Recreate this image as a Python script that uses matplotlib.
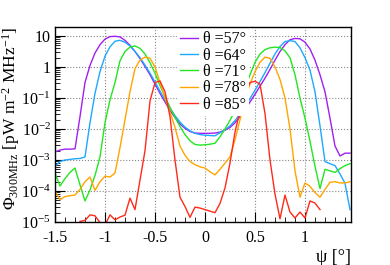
import matplotlib as mpl
mpl.use('Agg')

import numpy as np
import matplotlib.pyplot as plt
from matplotlib.ticker import LogLocator, FixedLocator, MultipleLocator, FuncFormatter, NullFormatter

plt.rcParams['font.family'] = 'Liberation Serif'
plt.rcParams['mathtext.fontset'] = 'custom'
plt.rcParams['mathtext.rm'] = 'Liberation Serif'
plt.rcParams['mathtext.it'] = 'Liberation Serif:italic'

# off-axis angle psi [deg], common grid of the simulated points
psi = np.round(np.arange(-1.5, 1.451, 0.05), 2)

labels = [u'\u03b8 =57\u00b0', u'\u03b8 =64\u00b0', u'\u03b8 =71\u00b0',
          u'\u03b8 =78\u00b0', u'\u03b8 =85\u00b0']
colors = ['#a020f0', '#1ea8ff', '#22e622', '#ffa500', '#ff2a1a']

# log10 of flux [pW m^-2 MHz^-1]
log_57 = [-2.74, -2.68, -2.65, -2.65, -2.64, -1.60, -0.50, 0.05, 0.45, 0.72,
          0.90, 0.98, 0.99, 0.97, 0.86, 0.70, 0.50, 0.27, 0.02, -0.25,
          -0.55, -0.85, -1.13, -1.40, -1.63, -1.84, -1.98, -2.08, -2.13, -2.14,
          -2.14, -2.14, -2.13, -2.10, -2.04, -1.95, -1.80, -1.60, -1.38, -1.13,
          -0.88, -0.62, -0.36, -0.08, 0.22, 0.50, 0.72, 0.88, 0.92, 0.91,
          0.80, 0.58, 0.22, -0.25, -0.80, -1.65, -2.55, -2.87, -2.78, -2.78]
log_64 = [-3.20, -3.05, -3.00, -2.98, -2.96, -2.95, -2.90, -1.80, -0.85, -0.15,
          0.35, 0.65, 0.83, 0.86, 0.80, 0.68, 0.50, 0.30, 0.06, -0.20,
          -0.48, -0.78, -1.06, -1.33, -1.57, -1.78, -1.94, -2.06, -2.14, -2.18,
          -2.20, -2.21, -2.22, -2.12, -2.02, -1.90, -1.73, -1.52, -1.28, -1.02,
          -0.75, -0.47, -0.18, 0.12, 0.42, 0.66, 0.82, 0.85, 0.82, 0.62,
          0.30, -0.10, -0.80, -1.90, -3.05, -3.12, -3.18, -3.45, -3.75, -4.60]
log_71 = [-3.42, -3.84, -3.60, -3.40, -3.26, -3.80, -4.32, -3.97, -3.50, -2.90,
          -1.80, -1.06, -0.50, 0.20, 0.50, 0.64, 0.68, 0.60, 0.42, 0.14,
          -0.20, -0.60, -0.95, -1.30, -1.62, -1.92, -2.18, -2.38, -2.50, -2.52,
          -2.51, -2.49, -2.46, -2.25, -2.00, -1.72, -1.40, -1.05, -0.68, -0.25,
          0.15, 0.42, 0.56, 0.62, 0.64, 0.63, 0.52, 0.30, -0.25, -1.00,
          -1.65, -2.40, -3.20, -3.92, -3.30, -3.35, -3.40, -3.28, -3.18, -3.12]
log_78 = [-4.00, -4.28, -4.18, -4.15, -4.13, -3.95, -3.70, -3.55, -3.98, -3.70,
          -3.52, -3.55, -3.42, -2.60, -1.70, -0.80, -0.05, 0.22, 0.32, 0.28,
          0.00, -0.50, -1.00, -1.45, -1.95, -2.55, -2.85, -3.05, -3.15, -3.22,
          -3.26, -3.38, -3.48, -3.30, -3.10, -2.90, -2.35, -1.70, -1.05, -0.55,
          -0.15, 0.15, 0.32, 0.28, 0.00, -0.40, -1.00, -2.00, -3.35, -4.20,
          -3.74, -3.85, -4.05, -4.20, -3.95, -3.72, -3.70, -3.74, -3.74, -3.70]
nan = np.nan
log_85 = [nan, nan, nan, nan, nan, -4.98, -4.95, -4.77, -4.80, -5.02,
          -5.10, -4.77, -4.93, -4.84, -4.78, -4.23, -4.60, -3.65, -2.70, -1.10,
          -0.50, -0.45, -0.80, -1.60, -3.00, -4.20, -4.50, -4.85, -4.52, -4.55,
          -4.60, -4.65, -4.70, -4.40, -3.90, -3.10, -2.10, -1.40, -0.85, -0.50,
          -0.46, -0.55, -1.50, -3.00, -4.10, -4.90, -4.13, -4.68, -4.87, -4.68,
          -4.87, -4.32, -4.39, -4.60, nan, nan, nan, nan, nan, nan]

series = [log_57, log_64, log_71, log_78, log_85]


def ytick_label(v, pos):
    if v == 10:
        return '10'
    if v == 1:
        return '1'
    return r'10$^{%d}$' % int(round(np.log10(v)))


fig = plt.figure(figsize=(3.9, 2.65), dpi=100)
ax = fig.add_axes([55 / 390., 1 - 222 / 265., (351 - 55) / 390., (222 - 27) / 265.])

for vals, col, lab in zip(series, colors, labels):
    ax.plot(psi, 10 ** np.array(vals), color=col, lw=1.0, label=lab)

ax.set_yscale('log')
ax.set_xlim(-1.5, 1.46)
ax.set_ylim(1e-5, 19.5)

ax.xaxis.set_major_locator(MultipleLocator(0.5))
ax.xaxis.set_minor_locator(MultipleLocator(0.1))
ax.xaxis.set_major_formatter(FuncFormatter(lambda v, p: '%g' % v))
ax.yaxis.set_major_locator(FixedLocator([1e-5, 1e-4, 1e-3, 1e-2, 1e-1, 1, 10]))
ax.yaxis.set_minor_locator(LogLocator(base=10, subs=np.arange(2, 10), numticks=20))
ax.yaxis.set_major_formatter(FuncFormatter(ytick_label))
ax.yaxis.set_minor_formatter(NullFormatter())

ax.tick_params(which='both', direction='in', labelsize=11.5, top=False, right=False)
ax.tick_params(which='major', length=7, width=0.8)
ax.tick_params(which='minor', length=3.5, width=0.6)
ax.tick_params(axis='x', pad=6)
ax.tick_params(axis='y', pad=3)

ax.grid(True, which='major', color='#888888', linestyle=':', lw=0.8)
for s in ax.spines.values():
    s.set_linewidth(1.0)

ax.set_xlabel(u'\u03c8 [\u00b0]', fontsize=13, loc='right', labelpad=2)
ax.set_ylabel(r'$\Phi_{300\mathrm{MHz}}$ [pW m$^{-2}$ MHz$^{-1}$]', fontsize=12.5, loc='top')
ax.yaxis.set_label_coords(-0.112, 1.0)

leg = ax.legend(loc='upper left', bbox_to_anchor=(0.385, 1.035), fontsize=11.5, frameon=True,
                facecolor='white', edgecolor='none', framealpha=1, fancybox=False,
                handlelength=1.1, handletextpad=0.3, labelspacing=0.02, borderpad=0.2)
leg.set_zorder(2.4)

plt.savefig('out.png', dpi=100)
